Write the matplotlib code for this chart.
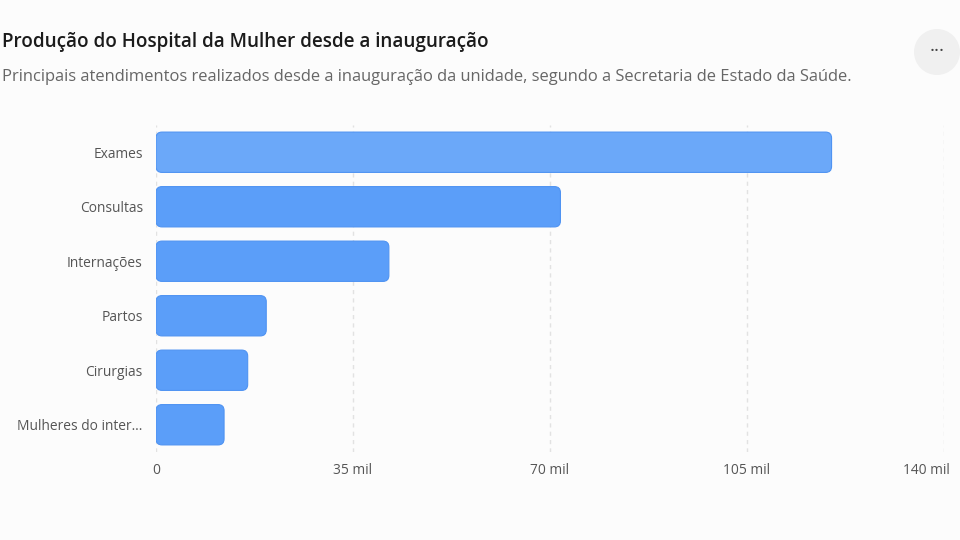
import matplotlib
matplotlib.use('Agg')
import matplotlib.pyplot as plt
import matplotlib.transforms as mtransforms
from matplotlib.patches import FancyBboxPatch, Circle
from matplotlib.ticker import FuncFormatter

# values (atendimentos)
categories = ['Exames', 'Consultas', 'Internações', 'Partos', 'Cirurgias', 'Mulheres do inter…']
values = [120100, 71900, 41400, 19600, 16300, 12100]
xticks = [0, 35000, 70000, 105000, 140000]

plt.rcParams['font.family'] = ['Open Sans', 'DejaVu Sans']

BG = '#fcfcfc'
BAR = '#5b9ef9'
BAR_TOP = '#6ba8f9'
EDGE = '#4f93f2'

fig = plt.figure(figsize=(9.6, 5.4), dpi=100, facecolor=BG)
ax = fig.add_axes([156 / 960, 88 / 540, 787.5 / 960, 327 / 540], facecolor=BG)

ax.set_xlim(0, 140000)
ax.set_ylim(len(categories) - 0.5, -0.5)

# size of one pixel in data units, to keep the corners round
x_px = 140000 / 787.5
y_px = len(categories) / 327
radius = 6 * x_px
aspect = y_px / x_px

bar_h = 0.74
for i, (cat, v) in enumerate(zip(categories, values)):
    color = BAR_TOP if i == 0 else BAR
    box = FancyBboxPatch((0, i - bar_h / 2), v, bar_h,
                         boxstyle=f'round,pad=0,rounding_size={radius}',
                         mutation_aspect=aspect,
                         facecolor=color, edgecolor=EDGE, linewidth=0.8, zorder=3)
    ax.add_patch(box)

ax.set_yticks(range(len(categories)))
ax.set_yticklabels(categories)
ax.set_xticks(xticks)
ax.xaxis.set_major_formatter(FuncFormatter(lambda v, p: '0' if v == 0 else f'{int(v / 1000)} mil'))

ax.tick_params(axis='both', length=0, labelsize=9.9, labelcolor='#555555')
ax.tick_params(axis='y', pad=9.5)
ax.tick_params(axis='x', pad=8)
lbls = ax.get_xticklabels()
lbls[-1].set_horizontalalignment('right')
lbls[-1].set_transform(lbls[-1].get_transform() + mtransforms.ScaledTranslation(6 / 100, 0, fig.dpi_scale_trans))

ax.grid(axis='x', color='#e2e2e2', linestyle=(0, (3, 3)), linewidth=1, zorder=0)
for s in ax.spines.values():
    s.set_visible(False)

fig.text(2 / 960, 1 - 42 / 540, 'Produção do Hospital da Mulher desde a inauguração',
         fontsize=13.6, fontweight='semibold', color='#1b1b1b', va='center', ha='left')
fig.text(2 / 960, 1 - 77 / 540,
         'Principais atendimentos realizados desde a inauguração da unidade, segundo a Secretaria de Estado da Saúde.',
         fontsize=11.85, color='#666666', va='center', ha='left')

# menu button
fig.patches.append(Circle((937, 540 - 52), 23, transform=None, facecolor='#f0f0f0', edgecolor='none'))
fig.text(937 / 960, 1 - 51 / 540, '···', fontsize=14, color='#444444', ha='center', va='center')

fig.savefig('out.png', dpi=100, facecolor=BG)
